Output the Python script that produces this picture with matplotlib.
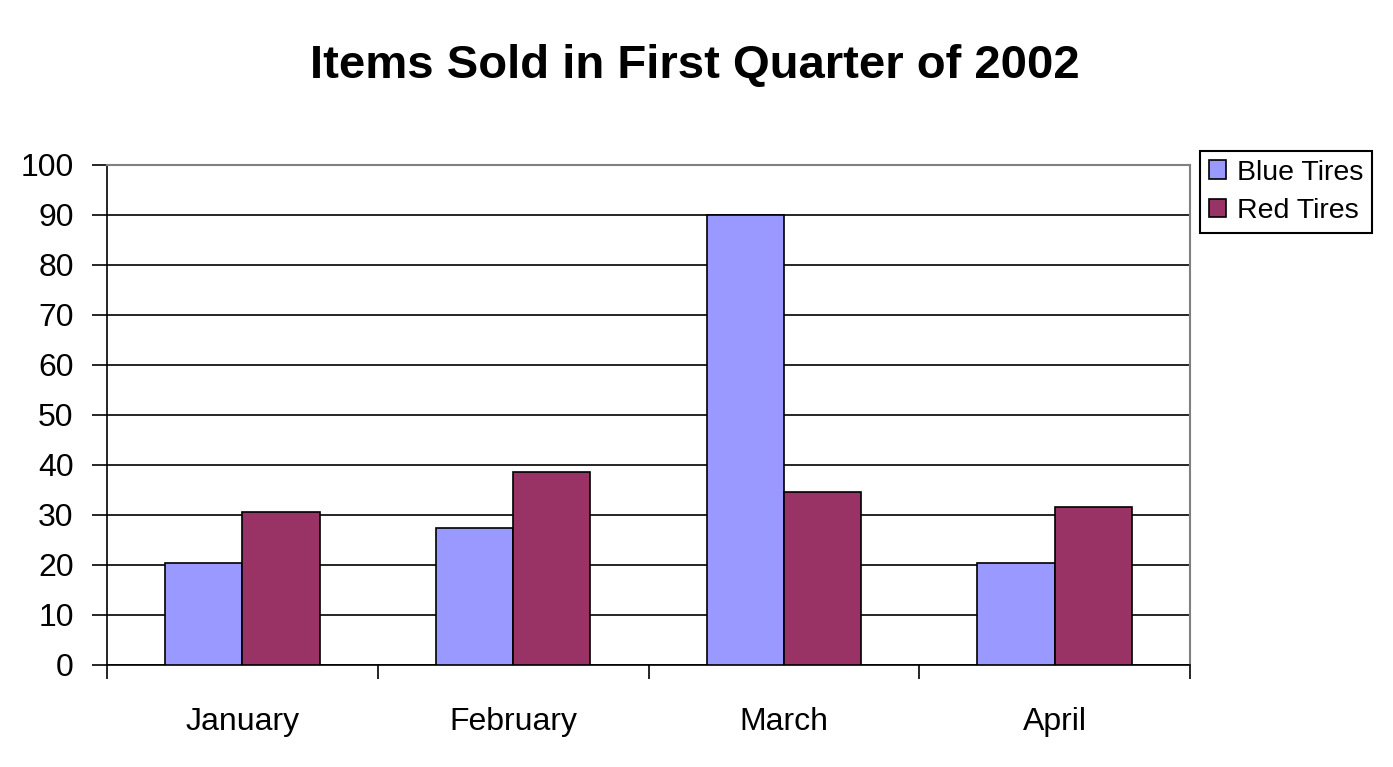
import numpy as np
import matplotlib.pyplot as plt

# data
months = ['January', 'February', 'March', 'April']
blue_tires = [20.4, 27.4, 90, 20.4]
red_tires = [30.6, 38.6, 34.6, 31.6]
y_ticks = [0, 10, 20, 30, 40, 50, 60, 70, 80, 90, 100]

plt.rcParams['font.family'] = ['Liberation Sans', 'DejaVu Sans']

fig = plt.figure(figsize=(13.93, 7.67), dpi=100)
ax = fig.add_axes([107/1393, 1 - 665/767, (1190 - 107)/1393, (665 - 165)/767])

x = np.arange(len(months))
w = 1 / 3.5  # excel style gap width 150%
ax.bar(x - w/2, blue_tires, w, color='#9999ff', edgecolor='black', linewidth=1.2,
       label='Blue Tires', zorder=3)
ax.bar(x + w/2, red_tires, w, color='#993366', edgecolor='black', linewidth=1.2,
       label='Red Tires', zorder=3)

ax.set_xlim(-0.5, len(months) - 0.5)
ax.set_ylim(0, 100)
ax.set_yticks(y_ticks)
ax.yaxis.grid(True, color='black', linewidth=1.2, zorder=0)

# category ticks sit on the boundaries, labels in the middle
ax.set_xticks(np.arange(len(months) + 1) - 0.5)
ax.set_xticklabels([])
ax.set_xticks(x, minor=True)
ax.set_xticklabels(months, minor=True)
ax.tick_params(axis='x', which='major', length=10, width=1.2, direction='out')
ax.tick_params(axis='x', which='minor', length=0, pad=30, labelsize=23)
ax.tick_params(axis='y', length=11, width=1.2, pad=13, labelsize=23)

for s in ['top', 'right']:
    ax.spines[s].set_color('#808080')
    ax.spines[s].set_linewidth(1.5)
ax.spines['left'].set_linewidth(1.2)
ax.spines['bottom'].set_linewidth(1.2)

fig.text(695/1393, 1 - 66/767, 'Items Sold in First Quarter of 2002', ha='center', va='center',
         fontsize=34, fontweight='bold')

leg = fig.legend(loc='upper left', bbox_to_anchor=(1200/1393, 1 - 151/767), fontsize=20.5,
                 frameon=True, fancybox=False, edgecolor='black', framealpha=1,
                 handlelength=0.6, handleheight=0.6, handletextpad=0.4, borderpad=0.3,
                 labelspacing=0.45, borderaxespad=0)
leg.get_frame().set_linewidth(1.5)

fig.savefig('out.png', dpi=100)
